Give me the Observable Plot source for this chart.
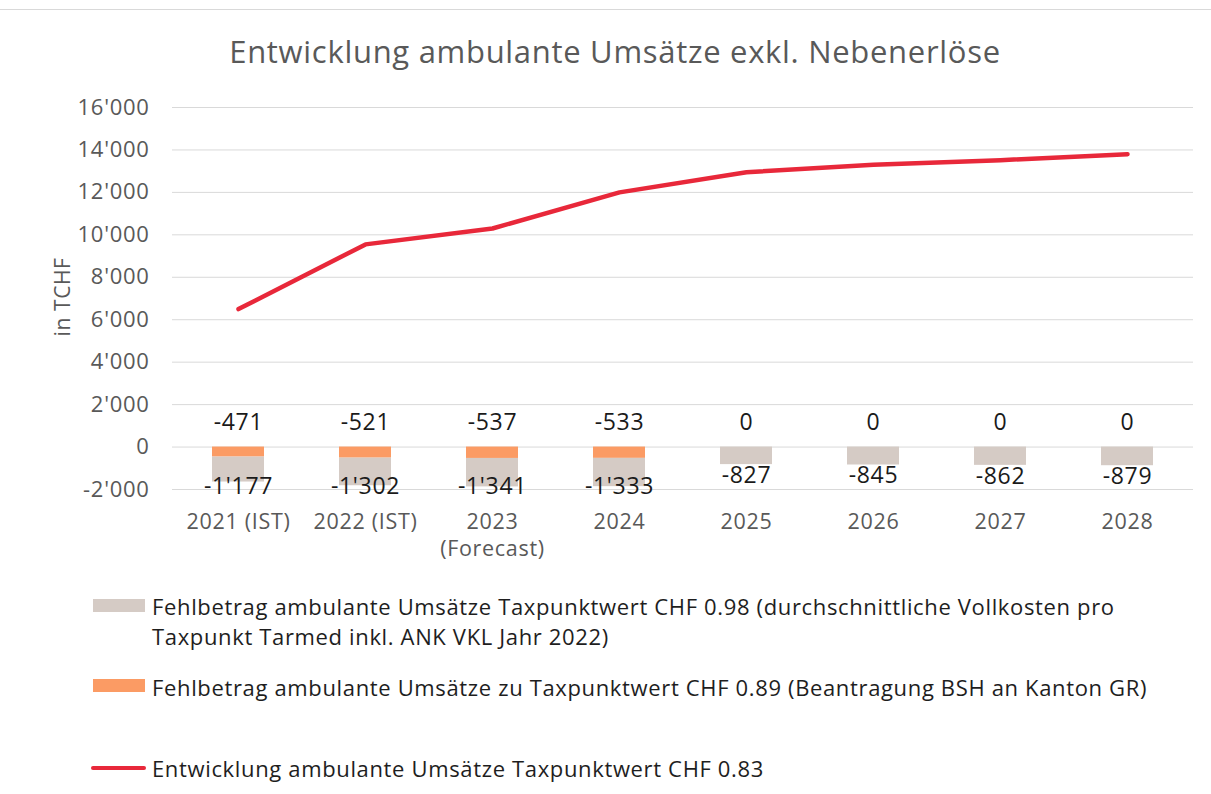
<!DOCTYPE html>
<html>
<head>
<meta charset="utf-8">
<script src="https://cdn.jsdelivr.net/npm/d3@7"></script>
<script src="https://cdn.jsdelivr.net/npm/@observablehq/plot@0.6"></script>
<style>
  html, body { margin: 0; padding: 0; background: #fff; }
  #wrap { position: relative; width: 1211px; height: 794px; font-family: "Open Sans", sans-serif; overflow: hidden; }
  #topline { position: absolute; left: 0; top: 9px; width: 1211px; height: 1px; background: #d9d9d9; }
  #title { position: absolute; left: 0; top: 33px; width: 1230px; text-align: center; font-size: 31px; letter-spacing: 0.7px; line-height: 36px; color: #595959; }
  #ylabel { position: absolute; left: 62px; top: 297px; transform: translate(-50%, -50%) rotate(-90deg); font-size: 21px; letter-spacing: 0.6px; color: #595959; white-space: nowrap; }
  #chart { position: absolute; left: 0; top: 90px; }
  .lg { position: absolute; left: 152px; font-size: 22px; letter-spacing: 0.65px; line-height: 30px; color: #1e1e1e; white-space: nowrap; }
  .sw { position: absolute; left: 93px; width: 52px; height: 13px; }
</style>
</head>
<body>
<div id="wrap">
  <div id="topline"></div>
  <div id="title">Entwicklung ambulante Umsätze exkl. Nebenerlöse</div>
  <div id="ylabel">in TCHF</div>
  <div id="chart"></div>
  <div class="sw" style="top:599px;background:#d5cbc5"></div>
  <div class="lg" style="top:591px">Fehlbetrag ambulante Umsätze Taxpunktwert CHF 0.98 (durchschnittliche Vollkosten pro<br>Taxpunkt Tarmed inkl. ANK VKL Jahr 2022)</div>
  <div class="sw" style="top:679px;background:#fb9b64"></div>
  <div class="lg" style="top:672px">Fehlbetrag ambulante Umsätze zu Taxpunktwert CHF 0.89 (Beantragung BSH an Kanton GR)</div>
  <div class="sw" style="top:766px;left:91px;width:55px;height:4px;border-radius:2px;background:#e8283a"></div>
  <div class="lg" style="top:753px">Entwicklung ambulante Umsätze Taxpunktwert CHF 0.83</div>
</div>
<script>
// ---- data ----
const years = ["2021 (IST)", "2022 (IST)", "2023\n(Forecast)", "2024", "2025", "2026", "2027", "2028"];
const grayValues = [-1177, -1302, -1341, -1333, -827, -845, -862, -879];   // Fehlbetrag CHF 0.98
const orangeValues = [-471, -521, -537, -533, 0, 0, 0, 0];                   // Fehlbetrag CHF 0.89
const lineValues = [6500, 9550, 10300, 12000, 12950, 13300, 13520, 13800];  // Umsätze CHF 0.83
const yTicks = [-2000, 0, 2000, 4000, 6000, 8000, 10000, 12000, 14000, 16000];

const colors = { orange: "#fb9b64", gray: "#d5cbc5", line: "#e8283a" };

// ---- derived tables ----
const stackRows = [
  ...years.map((y, i) => ({ year: y, value: orangeValues[i], series: "orange" })),
  ...years.map((y, i) => ({ year: y, value: grayValues[i], series: "gray" }))
];
const lineRows = years.map((y, i) => ({ year: y, value: lineValues[i] }));
const orangeLabels = years.map((y, i) => ({ year: y, value: orangeValues[i] }));
// gray label sits below the end of the stacked bar, kept inside the plot area (as Excel does)
const grayLabels = years.map((y, i) => ({ year: y, value: grayValues[i], pos: Math.max(grayValues[i] + orangeValues[i], -1330) }));

const fmt = v => d3.format(",")(v).replace(/,/g, "'").replace("−", "-");

const chart = Plot.plot({
  width: 1211,
  height: 480,
  marginTop: 17,
  marginBottom: 81,
  marginLeft: 172,
  marginRight: 18,
  style: { fontFamily: "Open Sans, sans-serif", background: "transparent", letterSpacing: "0.7px" },
  x: { domain: years, paddingInner: 0.59, paddingOuter: 0.295 },
  y: { domain: [-2000, 16000] },
  marks: [
    Plot.gridY(yTicks, { stroke: "#d9d9d9", strokeOpacity: 1, strokeWidth: 1 }),
    Plot.axisY(yTicks, { tickSize: 0, tickPadding: 23, tickFormat: fmt, fontSize: 22, fill: "#595959", label: null }),
    Plot.axisX({ tickSize: 0, tickPadding: 20, fontSize: 21.5, fill: "#595959", lineHeight: 1.27, label: null }),
    Plot.barY(stackRows, Plot.stackY({ x: "year", y: "value", fill: d => colors[d.series], order: null })),
    Plot.line(lineRows, { x: "year", y: "value", stroke: colors.line, strokeWidth: 4.5, strokeLinejoin: "round", strokeLinecap: "round" }),
    Plot.text(orangeLabels, { x: "year", y: () => 0, text: d => fmt(d.value), dy: -24, fontSize: 23, fill: "#1a1a1a", lineAnchor: "middle" }),
    Plot.text(grayLabels, { x: "year", y: "pos", text: d => fmt(d.value), dy: 11, fontSize: 23, fill: "#1a1a1a", lineAnchor: "middle" })
  ]
});
document.getElementById("chart").appendChild(chart);
</script>
</body>
</html>
